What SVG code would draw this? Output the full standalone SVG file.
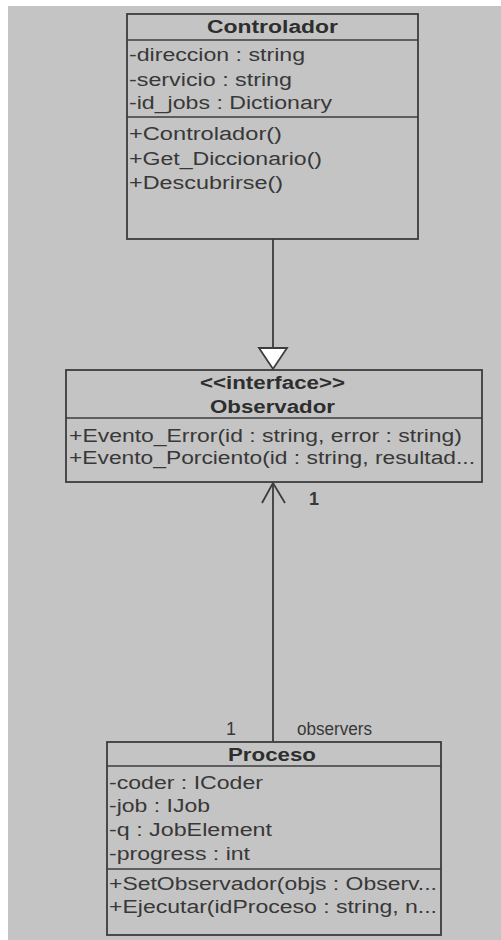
<svg xmlns="http://www.w3.org/2000/svg" width="501" height="940" viewBox="0 0 501 940">
  <style>
    .box { fill: #c4c4c4; stroke: #3c3c3c; stroke-width: 1.8; }
    .sep { stroke: #3c3c3c; stroke-width: 1.6; }
    .t { font-family: "Liberation Sans", Arial, sans-serif; font-size: 18px; fill: #383838; }
    .b { font-weight: bold; text-anchor: middle; fill: #2e2e2e; }
    .edge { stroke: #3c3c3c; stroke-width: 1.8; fill: none; }
  </style>
  <rect x="0" y="0" width="501" height="940" fill="#ffffff"/>
  <rect x="8" y="6" width="493" height="934" fill="#c4c4c4"/>

  <g id="connectors">
    <!-- realization: Controlador -> Observador -->
    <line class="edge" x1="273" y1="239" x2="273" y2="348"/>
    <polygon points="259,348 287,348 273,369" fill="#ffffff" stroke="#3c3c3c" stroke-width="1.8"/>
    <!-- association: Proceso -> Observador -->
    <line class="edge" x1="273" y1="742" x2="273" y2="483"/>
    <polyline class="edge" points="262,503 273,483 285,503"/>
    <text class="t" x="309" y="505" font-weight="bold">1</text>
    <text class="t" x="226" y="735">1</text>
    <text class="t" x="297" y="735" textLength="75" lengthAdjust="spacingAndGlyphs">observers</text>
  </g>

  <g id="controlador">
    <rect class="box" x="127" y="14" width="291" height="225"/>
    <line class="sep" x1="127" y1="40" x2="418" y2="40"/>
    <line class="sep" x1="127" y1="117" x2="418" y2="117"/>
    <text class="t b" x="272.5" y="33" textLength="131" lengthAdjust="spacingAndGlyphs">Controlador</text>
    <text class="t" x="129" y="61" textLength="176" lengthAdjust="spacingAndGlyphs">-direccion : string</text>
    <text class="t" x="129" y="86" textLength="163" lengthAdjust="spacingAndGlyphs">-servicio : string</text>
    <text class="t" x="129" y="109" textLength="203" lengthAdjust="spacingAndGlyphs">-id_jobs : Dictionary</text>
    <text class="t" x="129" y="140" textLength="153" lengthAdjust="spacingAndGlyphs">+Controlador()</text>
    <text class="t" x="129" y="165" textLength="193" lengthAdjust="spacingAndGlyphs">+Get_Diccionario()</text>
    <text class="t" x="129" y="189" textLength="154" lengthAdjust="spacingAndGlyphs">+Descubrirse()</text>
  </g>

  <g id="observador">
    <rect class="box" x="66" y="370" width="416" height="112"/>
    <line class="sep" x1="66" y1="418" x2="482" y2="418"/>
    <text class="t b" x="272.5" y="389" textLength="145" lengthAdjust="spacingAndGlyphs">&lt;&lt;interface&gt;&gt;</text>
    <text class="t b" x="272.5" y="413" textLength="125" lengthAdjust="spacingAndGlyphs">Observador</text>
    <text class="t" x="69" y="442" textLength="393" lengthAdjust="spacingAndGlyphs">+Evento_Error(id : string, error : string)</text>
    <text class="t" x="69" y="464" textLength="406" lengthAdjust="spacingAndGlyphs">+Evento_Porciento(id : string, resultad...</text>
  </g>

  <g id="proceso">
    <rect class="box" x="107" y="742" width="334" height="193"/>
    <line class="sep" x1="107" y1="766" x2="441" y2="766"/>
    <line class="sep" x1="107" y1="869" x2="441" y2="869"/>
    <text class="t b" x="272" y="761" textLength="88" lengthAdjust="spacingAndGlyphs">Proceso</text>
    <text class="t" x="109" y="789" textLength="154" lengthAdjust="spacingAndGlyphs">-coder : ICoder</text>
    <text class="t" x="109" y="812" textLength="101" lengthAdjust="spacingAndGlyphs">-job : IJob</text>
    <text class="t" x="109" y="836" textLength="163" lengthAdjust="spacingAndGlyphs">-q : JobElement</text>
    <text class="t" x="109" y="860" textLength="141" lengthAdjust="spacingAndGlyphs">-progress : int</text>
    <text class="t" x="109" y="890" textLength="328" lengthAdjust="spacingAndGlyphs">+SetObservador(objs : Observ...</text>
    <text class="t" x="109" y="913" textLength="328" lengthAdjust="spacingAndGlyphs">+Ejecutar(idProceso : string, n...</text>
  </g>
</svg>
